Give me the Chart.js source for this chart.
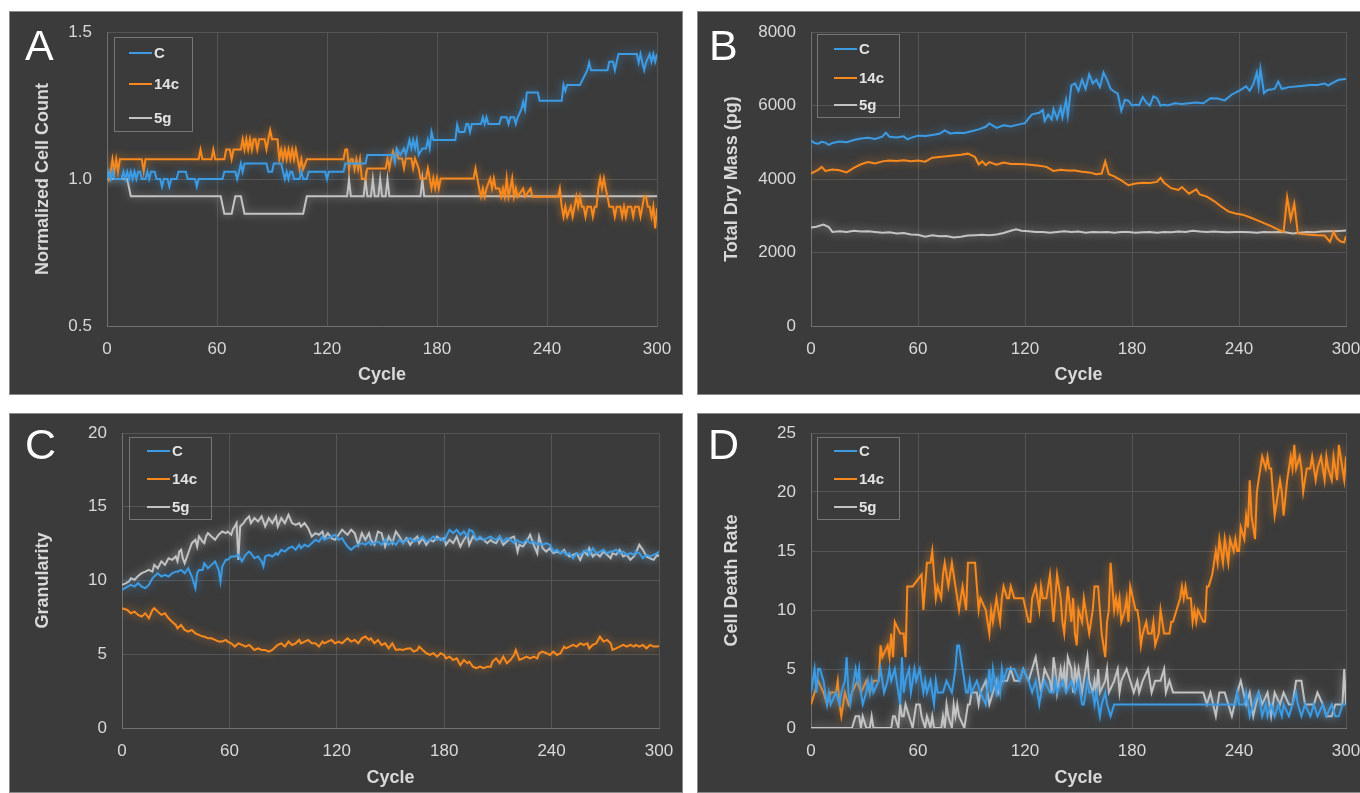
<!DOCTYPE html>
<html>
<head>
<meta charset="utf-8">
<title>Cell line time courses</title>
<script src="https://cdn.jsdelivr.net/npm/chart.js@4.4.0/dist/chart.umd.min.js"></script>
<style>
  html, body { margin: 0; padding: 0; background: #ffffff; }
  body { width: 1360px; height: 793px; overflow: hidden; position: relative;
         font-family: 'Liberation Sans', Arial, sans-serif; }
  .panel { position: absolute; background: #3b3b3b; overflow: hidden;
           outline: 1px solid #8a8a8a; outline-offset: -1px; }
  .panel canvas { position: absolute; left: 0; top: 0; }
  .letter { position: absolute; color: #ffffff; font-size: 43px; line-height: 1; }
  .legend { position: absolute; border: 1px solid #767676; box-sizing: border-box; }
  .legend .entry { position: absolute; left: 0; height: 20px; line-height: 20px;
                   color: #e2e2e2; font-weight: bold; font-size: 15px; white-space: nowrap; }
  .legend .swatch { position: absolute; top: 9px; width: 23px; height: 2px; }
</style>
</head>
<body>

<script>
// ===========================
// Data
// ===========================

const SERIES_NAMES = ['C', '14c', '5g'];
const SERIES_COLORS = ['#3d9be3', '#f7891e', '#c3c3c3'];
const X_TICKS = [0, 60, 120, 180, 240, 300];

// Panel A - normalized cell count, [cycle, value]
const countC = [[0,1.0],[1,1.025],[2,1.0],[3,1.025],[4,1.0],[8,1.0],[9,1.025],[10,1.0],[11,1.025],[12,1.0],[13,1.025],[14,1.0],[15,1.025],[16,1.0],[17,1.025],[18,1.025],[19,1.0],[21,1.0],[22,1.025],[23,1.0],[24,1.025],[26,1.025],[27,1.0],[29,1.0],[30,0.974],[31,1.0],[33,1.0],[34,0.974],[35,1.0],[38,1.0],[39,1.025],[43,1.025],[44,1.0],[48,1.0],[49,0.974],[50,1.0],[63,1.0],[64,1.025],[70,1.025],[71,1.0],[72,1.025],[73,1.053],[74,1.025],[75,1.053],[87,1.053],[88,1.025],[90,1.025],[91,1.053],[95,1.053],[96,1.025],[97,1.0],[98,1.025],[99,1.0],[100,1.025],[101,1.025],[102,1.0],[105,1.0],[106,1.025],[107,1.0],[109,1.0],[110,1.025],[119,1.025],[120,1.0],[121,1.025],[129,1.025],[130,1.053],[141,1.053],[142,1.082],[156,1.082],[157,1.056],[158,1.104],[160,1.082],[162,1.104],[163,1.082],[165,1.133],[166,1.104],[167,1.133],[168,1.104],[169,1.133],[170,1.082],[172,1.104],[174,1.104],[175,1.133],[176,1.104],[177,1.16],[178,1.133],[190,1.133],[191,1.184],[192,1.16],[195,1.16],[196,1.187],[197,1.187],[198,1.16],[199,1.187],[204,1.187],[205,1.21],[206,1.187],[207,1.21],[208,1.187],[214,1.187],[215,1.21],[218,1.21],[219,1.187],[220,1.21],[222,1.21],[223,1.187],[224,1.21],[226,1.237],[227,1.263],[228,1.237],[229,1.294],[235,1.294],[236,1.266],[248,1.266],[249,1.32],[250,1.3],[251,1.32],[258,1.32],[260,1.345],[262,1.37],[263,1.396],[264,1.37],[273,1.37],[274,1.399],[276,1.399],[277,1.37],[278,1.399],[279,1.425],[289,1.425],[290,1.396],[291,1.425],[292,1.396],[293,1.37],[294,1.396],[296,1.425],[297,1.399],[298,1.425],[299,1.399],[300,1.425]];
const count14c = [[0,1.025],[1,1.0],[2,1.025],[3,1.067],[4,1.025],[5,1.067],[6,1.025],[7,1.067],[19,1.067],[20,1.025],[21,1.067],[50,1.067],[51,1.1],[52,1.067],[57,1.067],[58,1.1],[59,1.067],[64,1.067],[65,1.1],[67,1.1],[68,1.067],[69,1.1],[73,1.1],[74,1.135],[75,1.1],[76,1.135],[77,1.1],[78,1.135],[79,1.1],[80,1.135],[81,1.135],[82,1.1],[83,1.135],[86,1.135],[87,1.1],[88,1.135],[89,1.166],[90,1.135],[93,1.135],[94,1.067],[95,1.1],[96,1.067],[97,1.1],[98,1.067],[99,1.1],[100,1.067],[101,1.1],[102,1.067],[103,1.1],[104,1.067],[105,1.033],[106,1.067],[107,1.033],[109,1.067],[129,1.067],[130,1.1],[131,1.1],[132,1.033],[133,1.067],[134,1.067],[135,1.033],[136,1.067],[137,1.033],[138,1.067],[139,1.0],[141,1.0],[142,1.036],[152,1.036],[153,1.07],[154,1.036],[155,1.07],[156,1.093],[157,1.07],[158,1.093],[159,1.07],[161,1.07],[162,1.036],[163,1.07],[166,1.07],[167,1.036],[168,1.07],[170,1.036],[171,1.002],[174,1.002],[175,1.036],[176,1.002],[177,0.968],[178,1.002],[179,0.968],[180,1.002],[181,0.968],[182,1.002],[200,1.002],[201,1.036],[202,1.002],[203,0.968],[204,0.94],[205,0.968],[206,0.94],[207,0.968],[209,1.002],[210,0.968],[211,1.002],[212,0.968],[214,0.968],[215,0.94],[216,0.968],[217,0.94],[218,1.002],[219,0.94],[220,0.968],[221,1.002],[222,0.94],[223,0.968],[224,0.94],[227,0.968],[228,0.94],[231,0.968],[232,0.94],[246,0.94],[247,0.968],[248,0.906],[249,0.872],[250,0.906],[251,0.872],[253,0.906],[254,0.872],[255,0.906],[256,0.94],[257,0.906],[258,0.94],[259,0.906],[260,0.906],[261,0.872],[262,0.906],[264,0.906],[265,0.872],[266,0.906],[267,0.906],[268,0.968],[269,1.002],[270,0.968],[271,1.002],[272,0.968],[273,0.94],[274,0.906],[276,0.906],[277,0.872],[278,0.906],[280,0.906],[281,0.872],[282,0.906],[283,0.872],[284,0.906],[286,0.906],[287,0.872],[288,0.906],[290,0.906],[291,0.872],[292,0.906],[293,0.94],[294,0.94],[295,0.906],[296,0.906],[297,0.872],[298,0.906],[299,0.832],[300,0.9]];
const count5g = [[0,1.0],[11,1.0],[13,0.941],[62,0.941],[64,0.882],[68,0.882],[70,0.941],[73,0.941],[75,0.882],[107,0.882],[109,0.941],[131,0.941],[132,1.0],[133,0.941],[140,0.941],[141,1.0],[142,0.941],[144,0.941],[145,1.0],[146,0.941],[148,0.941],[149,1.0],[150,0.941],[152,0.941],[153,1.0],[154,0.941],[171,0.941],[172,1.0],[173,0.941],[300,0.941]];

// Panel B - total dry mass (pg)
const massC = [[0,5050],[2,4980],[4,4960],[6,5010],[8,4990],[10,4930],[12,4980],[16,5020],[20,5000],[24,5060],[28,5100],[32,5120],[36,5090],[40,5150],[42,5260],[44,5150],[48,5130],[52,5160],[54,5080],[56,5120],[60,5180],[64,5170],[68,5200],[72,5230],[75,5320],[78,5240],[82,5260],[86,5250],[90,5300],[94,5350],[98,5420],[100,5510],[104,5390],[108,5460],[112,5430],[116,5480],[120,5520],[122,5650],[124,5760],[128,5800],[130,5880],[131,5580],[133,5750],[135,5620],[136,5900],[138,5640],[140,5950],[141,5680],[143,6150],[144,5720],[146,6550],[148,6600],[150,6400],[152,6700],[154,6450],[156,6850],[158,6600],[160,6700],[162,6500],[164,6900],[166,6700],[168,6450],[170,6380],[172,6320],[174,5860],[176,6150],[178,6130],[180,6000],[182,6020],[184,6010],[186,6230],[188,6080],[190,6000],[192,6250],[194,6200],[196,6000],[198,6020],[200,6000],[204,6060],[208,6040],[212,6060],[216,6080],[220,6060],[224,6200],[228,6190],[232,6140],[236,6300],[240,6400],[244,6520],[246,6400],[248,6580],[250,6900],[251,6520],[252,7000],[254,6340],[256,6420],[260,6450],[262,6650],[264,6450],[268,6500],[272,6520],[276,6540],[280,6560],[284,6560],[288,6600],[290,6540],[292,6600],[296,6700],[300,6720]];
const mass14c = [[0,4150],[4,4250],[6,4330],[8,4220],[12,4260],[16,4240],[20,4180],[24,4300],[28,4400],[32,4460],[36,4420],[40,4480],[44,4500],[48,4490],[52,4510],[56,4480],[60,4500],[64,4470],[68,4580],[72,4600],[76,4620],[80,4640],[84,4660],[88,4690],[92,4600],[94,4400],[96,4480],[98,4380],[100,4460],[104,4390],[108,4450],[112,4410],[116,4410],[120,4400],[124,4380],[128,4360],[132,4330],[136,4220],[140,4250],[144,4230],[148,4230],[152,4200],[156,4180],[160,4130],[163,4150],[165,4480],[167,4130],[170,4070],[174,3960],[178,3830],[182,3880],[186,3900],[190,3890],[194,3920],[196,4030],[198,3900],[202,3750],[206,3700],[208,3780],[212,3600],[216,3720],[218,3580],[222,3520],[226,3400],[230,3250],[234,3120],[238,3060],[242,3030],[246,2960],[250,2880],[254,2800],[258,2720],[262,2620],[265,2560],[267,3500],[269,2900],[271,3330],[273,2520],[276,2500],[280,2480],[284,2470],[288,2460],[291,2290],[293,2560],[295,2380],[297,2300],[299,2280],[300,2450]];
const mass5g = [[0,2680],[3,2700],[7,2760],[10,2690],[12,2560],[16,2580],[20,2560],[24,2590],[28,2570],[32,2580],[36,2560],[40,2540],[44,2550],[48,2520],[52,2530],[56,2490],[60,2480],[64,2430],[68,2470],[72,2440],[76,2450],[80,2410],[84,2430],[88,2460],[92,2470],[96,2480],[100,2470],[104,2490],[108,2530],[112,2590],[115,2630],[118,2590],[122,2580],[126,2560],[130,2560],[134,2540],[138,2560],[142,2580],[146,2560],[150,2570],[154,2540],[158,2560],[162,2550],[166,2560],[170,2540],[174,2560],[178,2560],[182,2540],[186,2550],[190,2560],[194,2540],[198,2560],[202,2550],[206,2570],[210,2560],[214,2590],[218,2570],[222,2560],[226,2570],[230,2560],[234,2550],[238,2560],[242,2560],[246,2550],[250,2540],[254,2560],[258,2550],[262,2560],[266,2550],[270,2520],[274,2540],[278,2560],[282,2550],[286,2570],[290,2580],[294,2580],[298,2590],[300,2600]];

// Panel C - granularity
const granC = [[0,9.36],[3,9.59],[5,9.7],[7,9.59],[9,9.82],[11,9.59],[13,9.48],[15,9.7],[17,10.15],[18,10.27],[20,10.49],[22,10.27],[24,10.38],[26,10.27],[28,10.49],[30,10.6],[31,10.6],[33,10.72],[35,10.49],[37,10.83],[39,10.27],[41,9.48],[42,10.49],[43,10.72],[45,10.72],[46,11.17],[48,10.83],[50,11.06],[52,11.29],[54,10.72],[55,9.93],[56,10.95],[58,11.4],[59,11.4],[61,11.63],[63,11.63],[65,11.74],[67,11.29],[69,11.74],[71,11.96],[72,11.85],[74,11.51],[76,11.63],[78,11.29],[79,10.95],[80,11.63],[82,11.74],[84,11.63],[86,11.85],[87,11.74],[89,12.08],[91,11.96],[93,12.19],[95,12.3],[97,12.08],[99,12.42],[100,12.19],[102,12.42],[104,12.3],[106,12.53],[108,12.76],[110,12.64],[112,12.98],[113,12.76],[115,12.87],[117,12.98],[119,13.1],[121,12.76],[123,12.87],[124,12.64],[126,12.3],[128,12.08],[130,12.3],[132,12.42],[134,12.53],[136,12.42],[138,12.64],[139,12.42],[141,12.53],[143,12.64],[145,12.42],[147,12.76],[149,12.42],[151,12.64],[153,12.42],[155,12.76],[157,12.53],[159,12.76],[161,12.87],[163,12.64],[165,12.76],[166,12.76],[168,12.98],[170,12.64],[172,12.76],[174,12.98],[176,12.76],[178,12.87],[180,12.64],[181,12.98],[183,13.44],[185,13.21],[187,13.44],[189,13.1],[191,13.32],[193,12.98],[194,13.44],[196,13.32],[198,12.76],[200,12.98],[202,12.76],[204,12.87],[206,12.98],[207,12.87],[209,12.76],[211,12.98],[213,12.64],[215,12.87],[217,12.76],[219,12.53],[220,12.76],[222,12.64],[224,12.53],[226,12.76],[228,12.53],[230,12.64],[232,12.42],[233,12.53],[235,12.42],[237,12.53],[239,12.42],[241,11.96],[243,12.08],[245,11.85],[247,11.96],[248,11.74],[250,11.85],[252,11.51],[254,11.85],[256,11.74],[258,11.96],[260,12.08],[261,11.74],[263,12.19],[265,11.85],[267,11.96],[269,12.08],[271,11.85],[273,11.96],[274,11.96],[276,12.08],[278,11.85],[280,11.96],[282,11.74],[284,11.85],[286,11.74],[287,11.96],[289,11.85],[291,11.51],[293,11.74],[295,11.63],[297,11.74],[299,11.85],[300,11.96]];
const gran14c = [[0,8.12],[3,8.0],[5,7.78],[7,7.89],[9,7.67],[11,7.55],[13,7.78],[15,7.44],[17,8.0],[18,8.12],[20,7.89],[22,7.67],[24,7.78],[26,7.44],[28,7.21],[30,6.99],[31,6.76],[33,6.99],[35,6.65],[37,6.53],[39,6.65],[41,6.42],[43,6.31],[45,6.2],[46,6.2],[48,6.08],[50,6.08],[52,5.97],[54,5.86],[56,5.86],[58,5.97],[59,5.86],[61,5.74],[63,5.52],[65,5.74],[67,5.63],[69,5.52],[71,5.63],[72,5.52],[74,5.29],[76,5.4],[78,5.29],[80,5.29],[82,5.18],[84,5.29],[86,5.52],[87,5.63],[89,5.74],[91,5.52],[93,5.86],[95,5.63],[97,5.74],[99,5.97],[100,5.74],[102,5.86],[104,5.97],[106,5.74],[108,5.74],[110,5.52],[112,5.86],[113,5.74],[115,5.86],[117,5.97],[119,5.74],[121,5.86],[123,5.74],[124,5.86],[126,6.08],[128,5.86],[130,5.97],[132,5.74],[134,6.08],[136,6.2],[138,5.97],[139,6.08],[141,5.74],[143,5.97],[145,5.63],[147,5.74],[149,5.4],[151,5.74],[153,5.29],[155,5.34],[157,5.29],[159,5.38],[161,5.4],[163,5.18],[165,5.29],[166,5.52],[168,5.29],[170,5.07],[172,4.95],[174,5.07],[176,4.84],[178,5.07],[180,4.95],[181,4.72],[183,4.84],[185,4.61],[187,4.72],[189,4.27],[191,4.61],[193,4.39],[194,4.5],[196,4.16],[198,4.05],[200,4.16],[202,4.05],[204,4.16],[206,4.16],[207,4.5],[209,4.72],[211,4.39],[213,4.84],[215,4.39],[217,4.61],[219,4.95],[220,5.29],[222,4.61],[224,4.72],[226,4.84],[228,4.72],[230,4.84],[232,4.72],[233,5.07],[235,5.18],[237,5.07],[239,4.95],[241,5.18],[243,4.95],[245,5.07],[247,5.52],[248,5.4],[250,5.52],[252,5.63],[254,5.52],[256,5.74],[258,5.63],[260,5.74],[261,5.4],[263,5.63],[265,5.74],[267,6.2],[269,5.86],[271,5.97],[273,5.74],[274,5.29],[276,5.4],[278,5.52],[280,5.63],[282,5.52],[284,5.63],[286,5.52],[287,5.63],[289,5.52],[291,5.63],[293,5.4],[295,5.63],[297,5.52],[299,5.52],[300,5.56]];
const gran5g = [[0,9.7],[2,9.8],[4,9.95],[5,10.15],[7,10.05],[9,10.3],[11,10.5],[13,10.6],[15,10.72],[17,10.6],[18,11.06],[20,10.83],[22,11.3],[24,11.06],[26,11.5],[28,11.4],[30,11.63],[31,11.3],[32,11.96],[33,12.08],[34,11.5],[35,11.17],[37,11.85],[39,12.53],[41,12.76],[42,12.3],[43,13.0],[45,12.64],[46,12.53],[47,13.0],[48,13.21],[50,12.98],[52,12.76],[54,13.1],[56,13.32],[58,13.21],[59,13.32],[61,13.1],[62,13.48],[63,13.66],[64,13.89],[65,11.4],[66,13.66],[68,13.9],[69,14.11],[71,14.34],[72,13.89],[74,14.23],[76,14.0],[78,14.34],[80,13.66],[82,14.23],[84,13.89],[86,14.34],[87,13.66],[89,14.23],[91,13.89],[93,14.45],[95,13.89],[97,13.77],[99,13.89],[100,13.66],[102,13.89],[104,13.55],[106,12.98],[108,13.21],[110,13.1],[112,13.32],[113,12.87],[115,13.21],[117,12.87],[119,12.76],[123,13.44],[125,13.21],[126,13.1],[128,13.44],[130,13.21],[132,12.42],[134,13.21],[136,12.76],[138,13.21],[139,12.76],[141,12.42],[143,13.32],[145,13.21],[147,12.3],[149,12.98],[151,12.53],[153,13.32],[155,12.98],[157,12.53],[159,12.87],[161,12.42],[163,12.76],[165,12.98],[166,12.53],[168,12.87],[170,12.42],[172,12.76],[174,12.64],[176,12.98],[178,12.76],[180,12.87],[181,12.42],[183,12.76],[185,12.53],[187,12.98],[189,12.3],[191,12.76],[193,13.1],[194,12.42],[196,12.98],[198,12.76],[200,12.87],[202,12.76],[204,12.53],[206,12.76],[207,12.64],[209,12.53],[211,12.98],[213,12.42],[215,12.64],[217,12.87],[219,12.98],[220,12.53],[221,11.96],[222,12.42],[224,12.3],[226,12.64],[228,13.1],[230,12.42],[232,11.85],[233,12.98],[235,12.19],[237,11.96],[239,12.19],[241,11.85],[243,11.96],[245,11.85],[247,12.08],[248,11.85],[250,11.63],[252,11.74],[254,11.85],[256,11.4],[258,11.96],[260,11.74],[261,12.19],[263,11.63],[265,11.85],[267,11.63],[269,11.96],[271,11.74],[273,11.51],[274,11.85],[276,11.74],[278,12.08],[280,11.63],[282,11.74],[284,11.4],[286,11.63],[287,11.85],[289,12.42],[291,12.08],[293,11.63],[295,11.51],[297,11.4],[299,11.74],[300,11.63]];

// Panel D - cell death rate
const deathC = [[0,3],[2,5],[3,3],[4,5],[5,5],[7,4],[8,3],[9,2],[10,3],[11,2],[14,3],[16,2],[17,3],[19,4],[20,6],[21,3],[22,2],[23,3],[25,5],[26,4],[27,5],[28,3],[29,2],[31,3],[32,4],[33,3],[34,4],[35,3],[38,4],[39,5],[40,4],[41,3],[43,4],[44,5],[45,4],[47,5],[49,3],[50,2],[51,6],[52,3],[53,4],[55,5],[56,3],[57,4],[58,5],[59,4],[61,5],[62,4],[63,3],[64,4],[65,3],[67,4],[68,3],[69,2],[70,4],[71,3],[74,3],[76,4],[79,3],[80,4],[81,5],[82,7],[83,7],[85,5],[86,4],[87,3],[88,3],[89,4],[90,3],[93,4],[95,3],[98,2],[100,5],[101,3],[102,5],[104,3],[105,4],[106,3],[107,5],[108,4],[110,5],[112,5],[114,5],[117,4],[119,5],[122,4],[124,3],[126,4],[128,2],[129,3],[131,4],[134,3],[136,3],[137,4],[138,3],[141,4],[143,3],[146,4],[148,3],[150,4],[152,2],[153,2],[154,3],[155,4],[156,3],[158,3],[159,2],[160,3],[162,1],[163,2],[165,3],[166,2],[168,1],[170,2],[238,2],[239,3],[240,2],[243,2],[244,3],[245,2],[246,1],[248,2],[251,3],[252,2],[253,1],[255,2],[256,1],[258,2],[260,1],[262,2],[264,1],[265,2],[268,1],[270,2],[272,3],[273,2],[275,1],[277,2],[280,1],[282,2],[284,1],[287,2],[289,1],[292,2],[294,1],[296,1],[298,2],[300,2]];
const death14c = [[0,2],[2,3],[4,4],[7,3],[9,2],[11,3],[14,3],[15,4],[16,2],[17,1],[19,3],[21,2],[23,3],[26,4],[28,3],[31,4],[33,3],[35,4],[38,4],[39,7],[40,6],[43,7],[44,6],[45,8],[46,6],[47,9],[50,8],[52,8],[53,6],[54,12],[57,12],[62,13],[63,10],[64,12],[65,14],[67,14],[68,15],[69,13],[70,11],[71,12],[73,11],[74,13],[75,14],[76,13],[77,12],[79,14],[80,13],[81,12],[82,11],[83,10],[85,12],[86,11],[87,10],[88,14],[90,14],[92,14],[93,12],[94,10],[95,11],[98,10],[99,9],[100,8],[101,10],[102,9],[104,11],[105,10],[106,9],[107,11],[108,12],[110,11],[111,11],[112,12],[114,11],[117,11],[119,11],[122,9],[123,9],[124,11],[126,12],[128,10],[129,12],[130,11],[132,11],[134,13],[136,9],[138,13],[140,11],[141,9],[142,8],[143,10],[144,12],[146,9],[147,11],[148,8],[149,7],[150,10],[152,9],[153,11],[154,10],[155,9],[156,8],[158,10],[159,12],[161,12],[162,10],[163,8],[165,6],[166,9],[167,10],[168,14],[170,10],[171,11],[172,10],[173,11],[174,9],[176,10],[177,11],[178,9],[179,12],[182,10],[183,10],[184,9],[185,7],[186,8],[188,9],[189,8],[191,8],[192,9],[193,7],[195,8],[196,10],[197,9],[198,8],[201,8],[202,9],[203,9],[205,10],[207,11],[208,12],[209,11],[210,12],[211,11],[213,11],[214,9],[215,10],[216,9],[217,10],[220,9],[221,9],[222,12],[223,12],[225,13],[226,14],[227,15],[228,14],[229,16],[231,14],[232,16],[233,15],[234,14],[235,16],[237,15],[238,16],[239,15],[240,15],[241,17],[243,16],[244,18],[245,17],[246,21],[247,18],[249,16],[250,20],[251,21],[252,22],[253,23],[255,22],[256,23],[257,22],[258,22],[259,20],[260,18],[262,20],[263,21],[264,20],[265,18],[267,21],[268,22],[269,23],[270,22],[271,24],[272,22],[274,23],[275,22],[276,20],[277,21],[278,22],[280,22],[281,23],[282,22],[283,21],[284,22],[286,23],[287,22],[288,21],[289,23],[290,22],[292,21],[293,23],[294,22],[295,21],[296,24],[298,22],[299,21],[300,23]];
const death5g = [[0,0],[23,0],[25,1],[27,1],[28,0],[29,1],[31,0],[33,0],[34,1],[35,0],[45,0],[46,1],[47,1],[49,0],[50,2],[51,1],[52,1],[53,2],[55,1],[57,0],[59,2],[61,2],[62,1],[64,0],[65,1],[67,0],[68,1],[69,0],[73,0],[74,1],[75,0],[76,2],[77,1],[79,0],[80,2],[81,1],[82,2],[83,1],[86,0],[87,1],[88,2],[89,2],[90,3],[93,3],[94,2],[95,3],[98,4],[99,3],[100,2],[102,3],[104,4],[105,3],[107,4],[110,4],[112,5],[114,4],[117,4],[119,5],[122,4],[124,5],[126,6],[128,4],[129,3],[131,5],[134,4],[135,3],[136,6],[137,5],[138,3],[140,5],[141,4],[142,5],[143,3],[144,6],[146,5],[147,3],[148,5],[149,4],[150,5],[152,3],[153,4],[155,6],[156,4],[158,3],[159,4],[160,3],[161,5],[162,3],[165,4],[166,5],[167,3],[170,4],[172,5],[173,3],[174,4],[177,5],[179,4],[181,3],[183,4],[184,3],[186,4],[189,5],[191,3],[193,4],[196,4],[198,5],[199,3],[201,4],[203,3],[220,3],[222,2],[224,3],[227,1],[229,3],[232,3],[234,2],[236,1],[239,3],[241,4],[244,2],[246,3],[248,1],[251,3],[253,2],[256,3],[258,1],[260,3],[263,2],[265,3],[268,2],[270,2],[272,4],[275,4],[277,2],[280,2],[282,2],[284,3],[287,2],[289,1],[292,1],[294,2],[296,2],[298,2],[299,5],[300,2]];

// ===========================
// Panel layout
// ===========================

// box: panel rectangle on the page; area: room around the plot inside the panel
const panels = [
  { letter: 'A', box: [9, 11, 674, 384], area: { left: 98, top: 21, right: 26, bottom: 69 },
    yTitle: 'Normalized Cell Count', yMin: 0.5, yMax: 1.5, yStep: 0.5, decimals: 1,
    series: [countC, count14c, count5g], letterPos: [16, 13], yTitlePad: 23, xTitlePad: 9,
    legend: { box: [105, 26, 79, 95], rows: [15, 46, 80], swatch: 14, text: 39 } },
  { letter: 'B', box: [697, 11, 680, 384], area: { left: 114, top: 21, right: 31, bottom: 69 },
    yTitle: 'Total Dry Mass (pg)', yMin: 0, yMax: 8000, yStep: 2000, decimals: 0,
    series: [massC, mass14c, mass5g], letterPos: [12, 13], yTitlePad: 24, xTitlePad: 9,
    legend: { box: [120, 23, 83, 84], rows: [14, 43, 70], swatch: 16, text: 41 } },
  { letter: 'C', box: [9, 413, 674, 380], area: { left: 113, top: 20, right: 24, bottom: 65 },
    yTitle: 'Granularity', yMin: 0, yMax: 20, yStep: 5, decimals: 0,
    series: [granC, gran14c, gran5g], letterPos: [16, 10], yTitlePad: 23, xTitlePad: 4,
    legend: { box: [120, 24, 83, 83], rows: [13, 41, 69], swatch: 17, text: 42 } },
  { letter: 'D', box: [697, 413, 680, 380], area: { left: 114, top: 20, right: 31, bottom: 65 },
    yTitle: 'Cell Death Rate', yMin: 0, yMax: 25, yStep: 5, decimals: 0,
    series: [deathC, death14c, death5g], letterPos: [11, 10], yTitlePad: 24, xTitlePad: 4,
    legend: { box: [120, 24, 83, 83], rows: [13, 41, 69], swatch: 16, text: 41 } }
];

// ===========================
// Chart styling
// ===========================

Chart.defaults.font.family = "'Liberation Sans', Arial, sans-serif";
Chart.defaults.color = '#d9d9d9';

const GRID_COLOR = '#555555';
const AXIS_COLOR = '#707070';

// soft outer glow round each line, as in the figure
const glowPlugin = {
  id: 'glow',
  beforeDatasetDraw(chart, args) {
    const ctx = chart.ctx;
    ctx.save();
    ctx.shadowColor = args.meta.dataset.options.borderColor + 'b0';
    ctx.shadowBlur = 9;
  },
  afterDatasetDraw(chart) {
    chart.ctx.restore();
  }
};

function buildPanel(p) {
  const [left, top, width, height] = p.box;
  const div = document.createElement('div');
  div.className = 'panel';
  Object.assign(div.style, { left: left + 'px', top: top + 'px', width: width + 'px', height: height + 'px' });
  document.body.appendChild(div);

  const canvas = document.createElement('canvas');
  canvas.width = width;
  canvas.height = height;
  canvas.style.width = width + 'px';
  canvas.style.height = height + 'px';
  div.appendChild(canvas);

  const letter = document.createElement('div');
  letter.className = 'letter';
  letter.textContent = p.letter;
  letter.style.left = p.letterPos[0] + 'px';
  letter.style.top = p.letterPos[1] + 'px';
  div.appendChild(letter);

  // legend box in the upper left of the plot
  const lg = document.createElement('div');
  lg.className = 'legend';
  const [lx, ly, lw, lh] = p.legend.box;
  Object.assign(lg.style, { left: lx + 'px', top: ly + 'px', width: lw + 'px', height: lh + 'px' });
  SERIES_NAMES.forEach((name, i) => {
    const row = document.createElement('div');
    row.className = 'entry';
    row.style.top = (p.legend.rows[i] - 10) + 'px';
    row.style.width = lw + 'px';
    const sw = document.createElement('span');
    sw.className = 'swatch';
    sw.style.left = p.legend.swatch + 'px';
    sw.style.background = SERIES_COLORS[i];
    const label = document.createElement('span');
    label.style.position = 'absolute';
    label.style.left = p.legend.text + 'px';
    label.textContent = name;
    row.appendChild(sw);
    row.appendChild(label);
    lg.appendChild(row);
  });
  div.appendChild(lg);

  new Chart(canvas, {
    type: 'line',
    data: {
      datasets: p.series.map((pts, i) => ({
        label: SERIES_NAMES[i],
        data: pts.map(([x, y]) => ({ x, y })),
        borderColor: SERIES_COLORS[i],
        borderWidth: 2,
        pointRadius: 0,
        tension: 0,
        fill: false
      }))
    },
    options: {
      responsive: false,
      animation: false,
      events: [],
      layout: { padding: { left: 0, top: p.area.top, right: p.area.right, bottom: 0 } },
      scales: {
        x: {
          type: 'linear',
          min: 0,
          max: 300,
          afterBuildTicks: (s) => { s.ticks = X_TICKS.map(v => ({ value: v })); },
          afterFit: (s) => { s.height = p.area.bottom; },
          // invisible tick marks give the label gap without padding the plot edges
          ticks: { font: { size: 17 }, color: '#d9d9d9', padding: 0, maxRotation: 0 },
          grid: { color: GRID_COLOR, drawTicks: true, tickLength: 13, tickColor: 'rgba(0,0,0,0)' },
          border: { color: AXIS_COLOR },
          title: { display: true, text: 'Cycle', color: '#d9d9d9',
                   font: { size: 18, weight: 'bold' }, padding: { top: 0, bottom: p.xTitlePad } }
        },
        y: {
          min: p.yMin,
          max: p.yMax,
          afterFit: (s) => { s.width = p.area.left; },
          ticks: { stepSize: p.yStep, font: { size: 17 }, color: '#d9d9d9', padding: 0,
                   callback: (v) => Number(v).toFixed(p.decimals) },
          grid: { color: GRID_COLOR, drawTicks: true, tickLength: 15, tickColor: 'rgba(0,0,0,0)' },
          border: { color: AXIS_COLOR },
          title: { display: true, text: p.yTitle, color: '#d9d9d9',
                   font: { size: 18, weight: 'bold' }, padding: { top: p.yTitlePad, bottom: 0 } }
        }
      },
      plugins: {
        legend: { display: false },
        tooltip: { enabled: false }
      }
    },
    plugins: [glowPlugin]
  });
}

panels.forEach(buildPanel);
</script>
</body>
</html>
